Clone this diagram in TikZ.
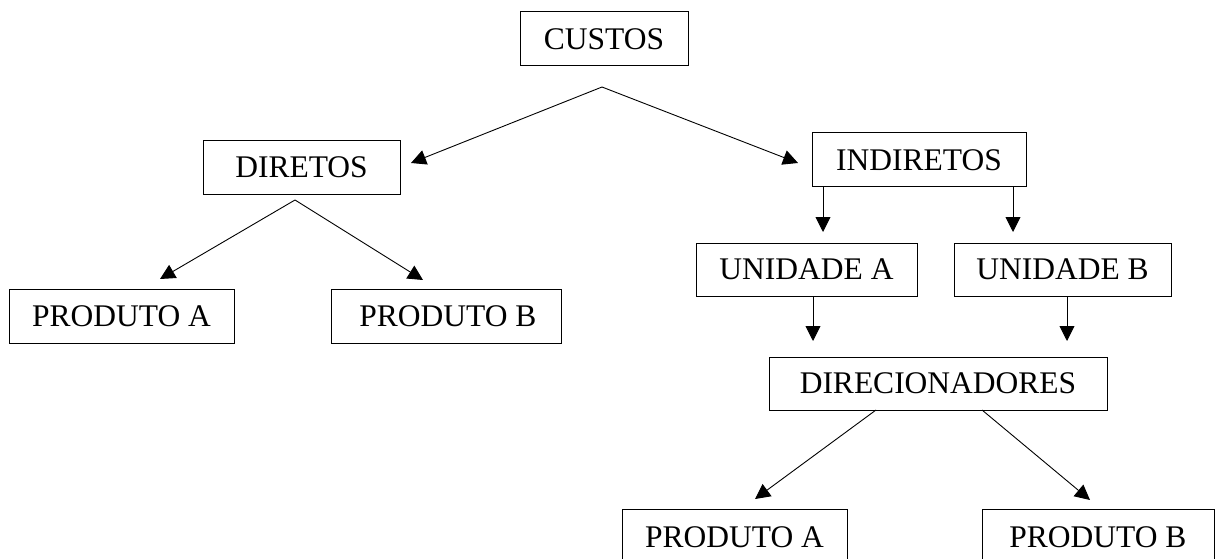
\documentclass[tikz,border=0pt]{standalone}
\usepackage{fontspec}
\setmainfont{Liberation Serif}
\usetikzlibrary{arrows.meta}
\begin{document}
\begin{tikzpicture}[x=1pt,y=-1pt,
  box/.style={draw, line width=1pt, inner sep=0pt, font=\fontsize{31.5}{36}\selectfont},
  conn/.style={line width=0.9pt, -{Triangle[length=15pt,width=15pt]}}]
\path[use as bounding box, clip] (0,0) rectangle (1216,559);
\fill[white] (0,0) rectangle (1216,559);
% boxes
\node[box, minimum width=168pt, minimum height=54pt] (custos) at (604,39) {CUSTOS};
\node[box, minimum width=197pt, minimum height=53pt] (diretos) at (301.5,167.5) {DIRETOS};
\node[box, minimum width=214pt, minimum height=54pt] (indiretos) at (919,160) {INDIRETOS};
\node[box, minimum width=221pt, minimum height=53pt] (unidA) at (806.5,269.5) {UNIDADE A};
\node[box, minimum width=217pt, minimum height=53pt] (unidB) at (1062.5,269.5) {UNIDADE B};
\node[box, minimum width=338pt, minimum height=53pt] (direc) at (938,383.5) {DIRECIONADORES};
\node[box, minimum width=225pt, minimum height=54pt] (prodA1) at (121.5,316) {PRODUTO A};
\node[box, minimum width=230pt, minimum height=54pt] (prodB1) at (446,316) {\hspace*{4pt}PRODUTO B};
\node[box, minimum width=225pt, minimum height=56pt] (prodA2) at (734.5,537) {PRODUTO A};
\node[box, minimum width=232pt, minimum height=56pt] (prodB2) at (1098,537) {PRODUTO B};
% connector end points
\coordinate (cApex) at (602,87);
\coordinate (tD) at (411,163);
\coordinate (tI) at (798,163);
\coordinate (dApex) at (295,200);
\coordinate (tPA1) at (160,279);
\coordinate (tPB1) at (423,280);
\coordinate (iA) at (823,187);
\coordinate (tUA) at (823,232);
\coordinate (iB) at (1013,187);
\coordinate (tUB) at (1013,232);
\coordinate (uA) at (813,296);
\coordinate (tDA) at (813,341);
\coordinate (uB) at (1067,296);
\coordinate (tDB) at (1067,341);
\coordinate (dL) at (876,410);
\coordinate (tPA2) at (755,499);
\coordinate (dR) at (982,410);
\coordinate (tPB2) at (1090,500);
% connectors
\draw[conn] (cApex) -- (tD);
\draw[conn] (cApex) -- (tI);
\draw[conn] (dApex) -- (tPA1);
\draw[conn] (dApex) -- (tPB1);
\draw[conn] (iA) -- (tUA);
\draw[conn] (iB) -- (tUB);
\draw[conn] (uA) -- (tDA);
\draw[conn] (uB) -- (tDB);
\draw[conn] (dL) -- (tPA2);
\draw[conn] (dR) -- (tPB2);
\end{tikzpicture}
\end{document}
